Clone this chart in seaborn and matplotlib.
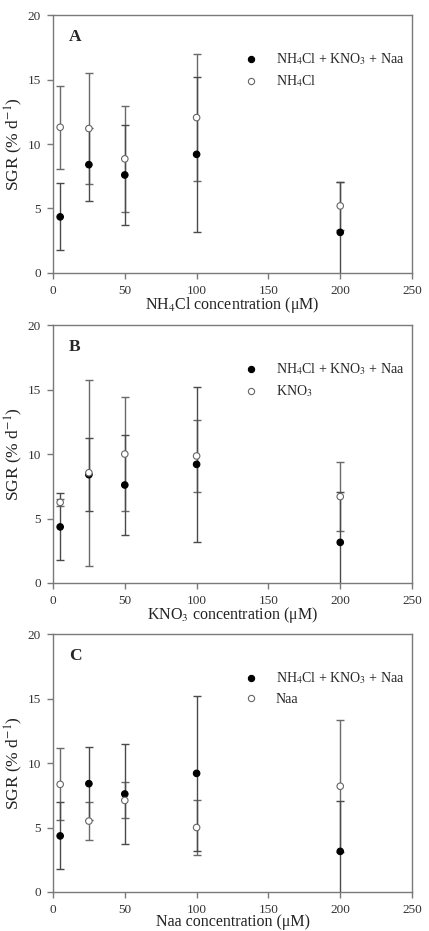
import pandas as pd
import matplotlib.pyplot as plt
import seaborn as sns

# concentrations (uM) and SGR values
conc = [5, 25, 50, 100, 200]

combo_mean = [4.35, 8.4, 7.6, 9.2, 3.15]
combo_err = [2.6, 2.85, 3.9, 6.0, 3.9]

nh4_mean = [11.3, 11.2, 8.85, 12.05, 5.2]
nh4_err = [3.2, 4.3, 4.1, 4.95, 1.85]

kno3_mean = [6.25, 8.55, 10.0, 9.85, 6.7]
kno3_err = [0.3, 7.2, 4.45, 2.8, 2.7]

naa_mean = [8.35, 5.5, 7.1, 5.0, 8.2]
naa_err = [2.8, 1.5, 1.4, 2.1, 5.1]

panel_letters = ['A', 'B', 'C']
single_labels = [r'NH$_4$Cl', r'KNO$_3$', 'Naa']
single_means = [nh4_mean, kno3_mean, naa_mean]
single_errs = [nh4_err, kno3_err, naa_err]
x_labels = [r'NH$_4$Cl concentration (μM)', r'KNO$_3$ concentration (μM)', 'Naa concentration (μM)']
combo_label = r'NH$_4$Cl + KNO$_3$ + Naa'

sns.set_theme(style='ticks')
plt.rcParams['font.family'] = ['Liberation Serif', 'DejaVu Serif']
plt.rcParams['mathtext.fontset'] = 'stix'
plt.rcParams['font.size'] = 9

spine_col = '#7a7a7a'

fig = plt.figure(figsize=(4.29, 9.31), dpi=100, facecolor='white')
bottoms = [0.7068, 0.3738, 0.0419]

for i in range(3):
    ax = fig.add_axes([0.1235, bottoms[i], 0.837, 0.277])

    df = pd.DataFrame({
        'conc': conc * 2,
        'sgr': combo_mean + single_means[i],
        'err': combo_err + single_errs[i],
        'group': [combo_label] * 5 + [single_labels[i]] * 5,
    })

    # error bars first, markers on top
    ax.errorbar(conc, single_means[i], yerr=single_errs[i], fmt='none',
                ecolor='#6a6a6a', elinewidth=1, capsize=3, capthick=1, zorder=2)
    ax.errorbar(conc, combo_mean, yerr=combo_err, fmt='none',
                ecolor='#4a4a4a', elinewidth=1, capsize=3, capthick=1, zorder=2)

    sns.scatterplot(data=df, x='conc', y='sgr', hue='group', style='group',
                    palette={combo_label: 'black', single_labels[i]: 'white'},
                    markers={combo_label: 'o', single_labels[i]: 'o'},
                    s=22, linewidth=0.8, edgecolor='#555555', ax=ax, zorder=3)
    # filled markers get black edges
    cols = ax.collections[-1]
    cols.set_edgecolors(['black'] * 5 + ['#666666'] * 5)

    ax.set_xlim(0, 250)
    ax.set_ylim(0, 20)
    ax.set_xticks([0, 50, 100, 150, 200, 250])
    ax.set_yticks([0, 5, 10, 15, 20])
    ax.set_xlabel(x_labels[i], fontsize=11.5, labelpad=-1, color='#222222')
    ax.set_ylabel('SGR (% d$^{-1}$)', fontsize=12.5, labelpad=2, color='#222222')
    ax.tick_params(direction='out', length=4, width=1, color=spine_col,
                   labelsize=9.5, labelcolor='#333333', pad=4.5)
    for sp in ax.spines.values():
        sp.set_color(spine_col)
        sp.set_linewidth(1)

    ax.text(0.045, 0.915, panel_letters[i], transform=ax.transAxes,
            fontsize=12.5, fontweight='bold', va='center', ha='left')

    handles, labels = ax.get_legend_handles_labels()
    for h in handles:
        h.set_markersize(4.5)
    handles[0].set_markeredgecolor('black')
    handles[1].set_markeredgecolor('#666666')
    ax.legend(handles, labels, loc='upper left', bbox_to_anchor=(0.508, 0.88),
              frameon=False, fontsize=10, handletextpad=1.0, labelspacing=0.45,
              handlelength=1.5, borderaxespad=0)

plt.savefig('out.png', dpi=100, facecolor='white')
